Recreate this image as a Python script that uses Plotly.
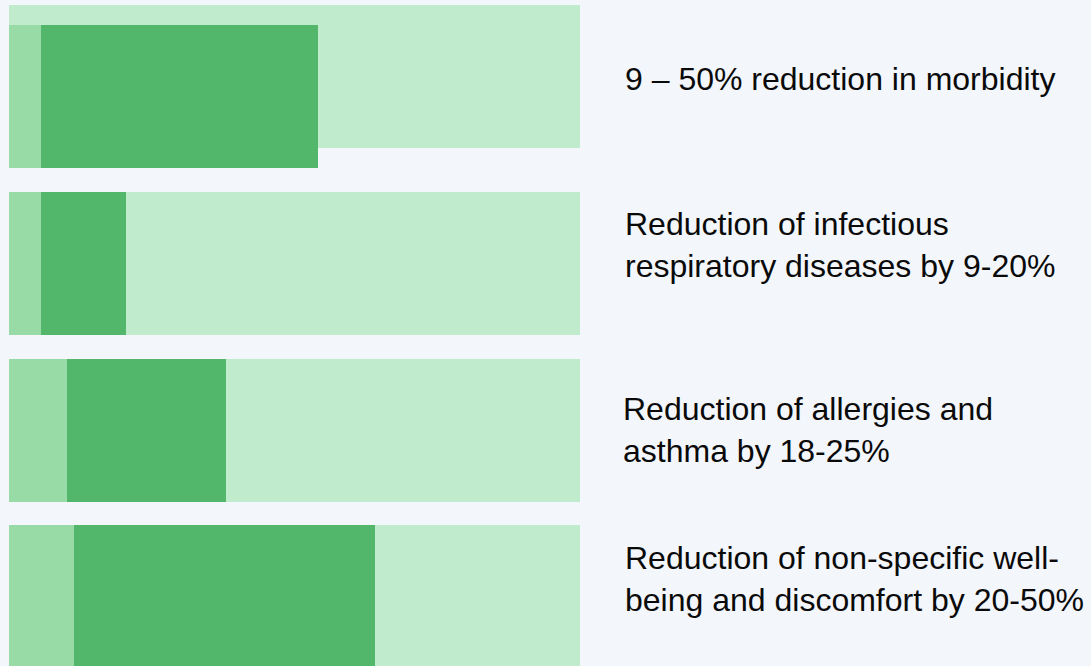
import plotly.graph_objects as go

# Outcome categories, top to bottom
categories = [
    "9 – 50% reduction in morbidity",
    "Reduction of infectious<br>respiratory diseases by 9-20%",
    "Reduction of allergies and<br>asthma by 18-25%",
    "Reduction of non-specific well-<br>being and discomfort by 20-50%",
]
# Bar lengths on a 0-100 track
track_full = [100, 100, 100, 100]
lower_part = [5.6, 5.6, 10.2, 11.4]
upper_part = [54.1, 20.5, 38.0, 64.1]

positions = [0, 1, 2, 3]
bar_w = 0.857
track_offset = [-bar_w / 2 - 0.12, -bar_w / 2, -bar_w / 2, -bar_w / 2]

PAGE_BG = "#F3F6FA"
TRACK = "#C0ECCD"
LOWER = "#99DBA7"
UPPER = "#52B76B"

fig = go.Figure()
fig.add_trace(go.Bar(
    y=positions, x=track_full, orientation="h", width=bar_w,
    offset=track_offset, marker=dict(color=TRACK, line=dict(width=0)),
    hoverinfo="skip", showlegend=False,
))
fig.add_trace(go.Bar(
    y=positions, x=upper_part, orientation="h", width=bar_w,
    marker=dict(color=UPPER, line=dict(width=0)),
    hoverinfo="skip", showlegend=False,
))
fig.add_trace(go.Bar(
    y=positions, x=lower_part, orientation="h", width=bar_w,
    marker=dict(color=LOWER, line=dict(width=0)),
    hoverinfo="skip", showlegend=False,
))

# Label placement (paper coords)
W, H = 1091, 666
label_x = [623, 623, 621, 623]
label_y = [79, 245, 430, 579]
for text, lx, ly in zip(categories, label_x, label_y):
    fig.add_annotation(
        text=text, xref="paper", yref="paper",
        x=lx / W, y=1 - ly / H, xanchor="left", yanchor="middle",
        align="left", showarrow=False,
        font=dict(family="Liberation Sans, Arial, sans-serif", size=32, color="#0A0A0A"),
    )

fig.update_layout(
    width=W, height=H,
    margin=dict(l=0, r=0, t=0, b=0),
    paper_bgcolor=PAGE_BG, plot_bgcolor=PAGE_BG,
    barmode="overlay", bargap=0,
    xaxis=dict(range=[-9 / 5.71, (W - 9) / 5.71], visible=False, fixedrange=True),
    yaxis=dict(range=[(H - 96.5) / 166.8, -96.5 / 166.8], visible=False, fixedrange=True),
)

fig.write_html("out.html")
